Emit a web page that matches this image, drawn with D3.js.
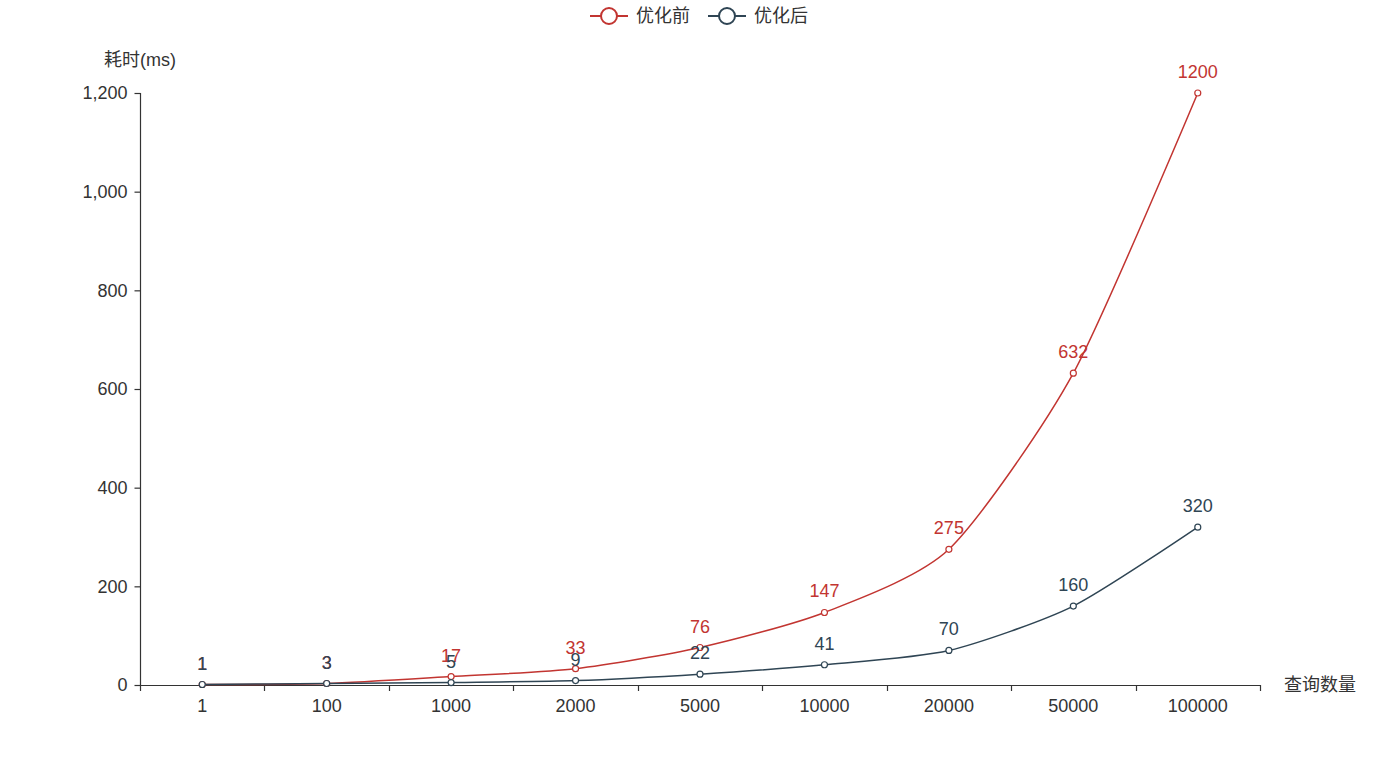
<!DOCTYPE html>
<html>
<head>
<meta charset="utf-8">
<script src="https://cdn.jsdelivr.net/npm/d3@7/dist/d3.min.js"></script>
<style>
  body { margin: 0; background: #fff; }
  svg text { font-family: "Liberation Sans", Arial, "Noto Sans CJK SC", sans-serif; }
</style>
</head>
<body>
<svg id="chart" width="1400" height="778"></svg>
<script>
// data
var categories = ['1', '100', '1000', '2000', '5000', '10000', '20000', '50000', '100000'];
var beforeValues = [1, 3, 17, 33, 76, 147, 275, 632, 1200];
var afterValues = [1, 3, 5, 9, 22, 41, 70, 160, 320];
var yTicks = [0, 200, 400, 600, 800, 1000, 1200];
var seriesNames = ['优化前', '优化后'];
var seriesColors = ['#c23531', '#2f4554'];

var svg = d3.select('#chart')
    , plotLeft = 140, plotRight = 1260, plotTop = 93, plotBottom = 685
    ;

var x = d3.scaleBand().domain(categories).range([plotLeft, plotRight]);
var y = d3.scaleLinear().domain([0, 1200]).range([plotBottom, plotTop]);
var fmt = d3.format(',');

// y axis
var yAxis = svg.append('g')
    .attr('transform', 'translate(' + (plotLeft + 0.5) + ',0)')
    .call(d3.axisLeft(y).tickValues(yTicks).tickSize(6).tickPadding(7).tickFormat(fmt));
yAxis.selectAll('text').attr('font-size', 18).attr('fill', '#333');
yAxis.selectAll('line, path').attr('stroke', '#333').attr('stroke-width', 1.2);
yAxis.select('.domain').attr('d', 'M0,' + plotBottom + 'V' + plotTop);

svg.append('text')
    .attr('x', plotLeft).attr('y', 66)
    .attr('text-anchor', 'middle')
    .attr('font-size', 18).attr('fill', '#333')
    .text('耗时(ms)');

// x axis, ticks on band boundaries
var xg = svg.append('g').attr('transform', 'translate(0,' + plotBottom + ')');
xg.append('path')
    .attr('d', 'M' + plotLeft + ',0.5H' + plotRight)
    .attr('stroke', '#333').attr('stroke-width', 1.2).attr('fill', 'none');
var bounds = categories.map(function(c) { return x(c); }).concat([plotRight]);
xg.selectAll('line.tick').data(bounds).enter().append('line')
    .attr('x1', function(d) { return Math.round(d) + 0.5; })
    .attr('x2', function(d) { return Math.round(d) + 0.5; })
    .attr('y1', 0).attr('y2', 6)
    .attr('stroke', '#333').attr('stroke-width', 1.2);
xg.selectAll('text.lab').data(categories).enter().append('text')
    .attr('x', function(d) { return x(d) + x.bandwidth() / 2; })
    .attr('y', 27)
    .attr('text-anchor', 'middle')
    .attr('font-size', 18).attr('fill', '#333')
    .text(function(d) { return d; });

svg.append('text')
    .attr('x', 1284).attr('y', 691)
    .attr('font-size', 18).attr('fill', '#333')
    .text('查询数量');

// series
var cx = function(d, i) { return x(categories[i]) + x.bandwidth() / 2; };
var line = d3.line()
    .x(cx)
    .y(function(d) { return y(d); })
    .curve(d3.curveCardinal.tension(0.3));

[beforeValues, afterValues].forEach(function(vals, k) {
  var g = svg.append('g');
  g.append('path')
      .datum(vals)
      .attr('d', line)
      .attr('fill', 'none')
      .attr('stroke', seriesColors[k])
      .attr('stroke-width', 1.5);
  g.selectAll('circle').data(vals).enter().append('circle')
      .attr('cx', cx)
      .attr('cy', function(d) { return y(d); })
      .attr('r', 3)
      .attr('fill', '#fff')
      .attr('stroke', seriesColors[k])
      .attr('stroke-width', 1.2);
  g.selectAll('text').data(vals).enter().append('text')
      .attr('x', cx)
      .attr('y', function(d) { return y(d) - 15; })
      .attr('text-anchor', 'middle')
      .attr('font-size', 18)
      .attr('fill', seriesColors[k])
      .text(function(d) { return d; });
});

// legend
var legend = svg.append('g');
var lx = [590, 708];
seriesNames.forEach(function(name, k) {
  var lg = legend.append('g').attr('transform', 'translate(' + lx[k] + ',16)');
  lg.append('line').attr('x1', 0).attr('x2', 38).attr('y1', 0).attr('y2', 0)
      .attr('stroke', seriesColors[k]).attr('stroke-width', 2);
  lg.append('circle').attr('cx', 19).attr('cy', 0).attr('r', 8)
      .attr('fill', '#fff').attr('stroke', seriesColors[k]).attr('stroke-width', 2);
  lg.append('text').attr('x', 46).attr('y', 6)
      .attr('font-size', 18).attr('fill', '#333')
      .text(name);
});
</script>
</body>
</html>
